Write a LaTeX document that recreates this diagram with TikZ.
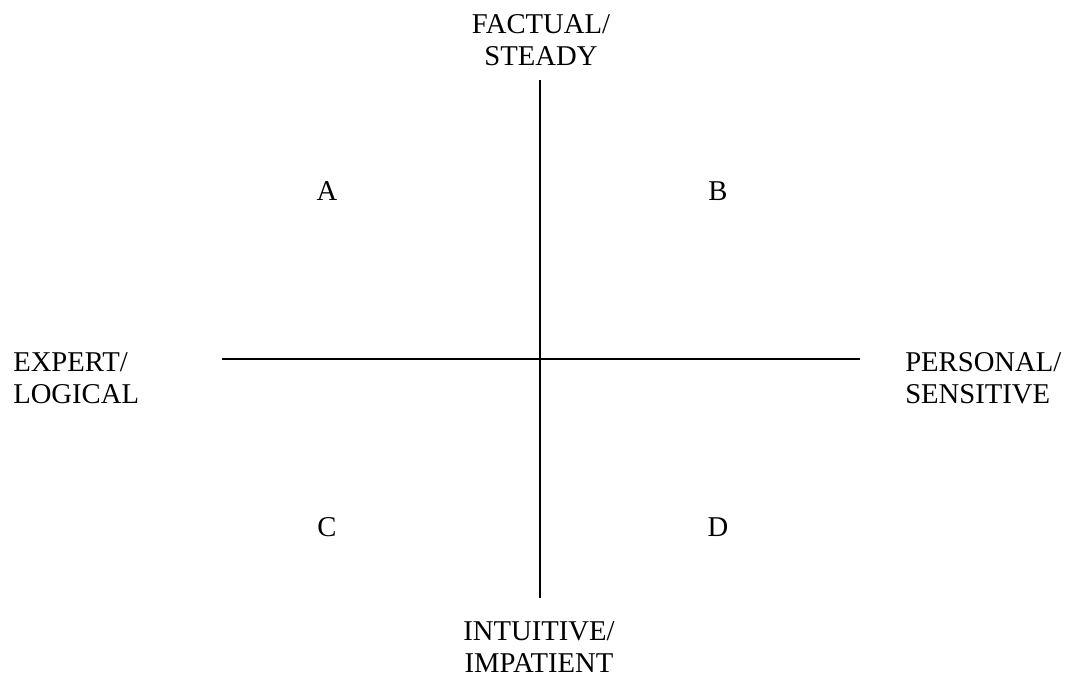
\documentclass[tikz,border=0pt]{standalone}
\usepackage{fontspec}
\setmainfont{Liberation Serif}
\begin{document}
\begin{tikzpicture}[x=0.75pt,y=-0.75pt,
  lbl/.style={font=\fontsize{21.5}{23.5}\selectfont, inner sep=0pt, align=center},
  axis/.style={line width=1.6pt}]
\useasboundingbox (0,0) rectangle (1065,678);
\coordinate (top) at (540,80);
\coordinate (bot) at (540,598);
\coordinate (lft) at (222,359);
\coordinate (rgt) at (860,359);
\draw[axis] (top) -- (bot);
\draw[axis] (lft) -- (rgt);
\node[lbl, anchor=base] (fact) at (541,65) {FACTUAL/\\STEADY};
\node[lbl, anchor=base] (intu) at (539,672) {INTUITIVE/\\IMPATIENT};
\node[lbl, align=left, anchor=base west] (expe) at (13,403) {EXPERT/\\LOGICAL};
\node[lbl, align=left, anchor=base west] (pers) at (905,403) {PERSONAL/\\SENSITIVE};
\node[lbl, anchor=base] (a) at (327,200) {A};
\node[lbl, anchor=base] (b) at (718,200) {B};
\node[lbl, anchor=base] (c) at (327,536) {C};
\node[lbl, anchor=base] (d) at (718,536) {D};
\end{tikzpicture}
\end{document}
